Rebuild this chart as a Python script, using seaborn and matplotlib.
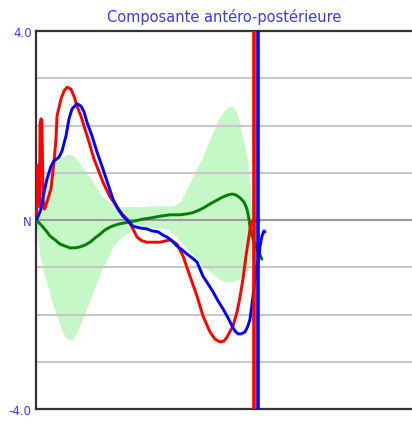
import numpy as np
import pandas as pd
import matplotlib
matplotlib.use("Agg")
import matplotlib.pyplot as plt
import seaborn as sns

# ---- data (x in samples, y in chart units) ----
red_x = [0.5, 1, 2, 2.5, 3.5, 4, 5, 6, 7, 8.5, 11, 15, 18, 20, 21, 25, 28, 31, 35, 38, 41, 45, 48,
         53, 58, 63, 67, 74, 81, 86, 92, 97, 101, 106, 111, 124, 134, 141, 147, 154, 161, 167, 174,
         179, 184, 188, 191, 197, 201, 204, 207, 210, 213, 215, 219, 223]
red_y = [0.02, 1.12, 1.16, 0.28, 0.34, 2.03, 2.14, 2.10, 0.44, 0.23, 0.38, 0.66, 1.23, 1.71, 2.20,
         2.56, 2.73, 2.81, 2.77, 2.62, 2.41, 2.20, 1.99, 1.65, 1.29, 1.02, 0.80, 0.49, 0.28, 0.13,
         0.0, -0.19, -0.36, -0.44, -0.47, -0.47, -0.42, -0.51, -0.76, -1.19, -1.61, -2.03, -2.37,
         -2.52, -2.58, -2.56, -2.48, -2.24, -1.95, -1.63, -1.25, -0.76, -0.34, -0.04, -0.02, -0.02]

blue_x = [1, 5, 8, 11, 15, 18, 23, 26, 30, 33, 36, 41, 45, 48, 51, 56, 61, 66, 72, 77, 82, 87, 92,
          97, 104, 111, 116, 122, 127, 131, 136, 141, 146, 151, 156, 161, 164, 167, 172, 177, 182,
          187, 192, 196, 199, 202, 205, 209, 212, 214, 217, 220, 223, 224, 226, 228, 229]
blue_y = [0.02, 0.23, 0.59, 0.87, 1.14, 1.25, 1.33, 1.46, 1.78, 2.14, 2.35, 2.46, 2.41, 2.29, 2.07,
          1.78, 1.44, 1.14, 0.76, 0.44, 0.23, 0.08, -0.02, -0.13, -0.17, -0.19, -0.23, -0.25, -0.32,
          -0.36, -0.44, -0.55, -0.63, -0.72, -0.80, -0.89, -1.04, -1.19, -1.35, -1.52, -1.71, -1.88,
          -2.07, -2.24, -2.35, -2.41, -2.41, -2.37, -2.24, -2.10, -1.61, -1.04, -0.78, -0.55, -0.34,
          -0.23, -0.25]

green_x = [1, 4, 7, 11, 14, 19, 24, 29, 34, 39, 44, 49, 54, 59, 64, 69, 74, 79, 84, 89, 94, 99, 107,
           114, 124, 134, 144, 151, 156, 161, 167, 174, 181, 187, 192, 196, 200, 204, 208, 211, 213,
           214, 217, 221, 226]
green_y = [-0.02, -0.08, -0.15, -0.25, -0.34, -0.42, -0.51, -0.55, -0.59, -0.59, -0.57, -0.53, -0.47,
           -0.38, -0.30, -0.21, -0.15, -0.11, -0.08, -0.06, -0.04, -0.02, 0.02, 0.04, 0.08, 0.11,
           0.11, 0.13, 0.15, 0.19, 0.25, 0.34, 0.42, 0.49, 0.53, 0.55, 0.53, 0.47, 0.38, 0.23, 0.02,
           -0.15, -0.40, -0.61, -0.83]

band_x = [0, 4, 8, 12, 16, 21, 26, 31, 36, 41, 48, 55, 61, 66, 71, 77, 84, 94, 104, 114, 124, 131,
          137, 144, 151, 157, 162, 167, 172, 177, 182, 187, 192, 196, 200, 204, 208, 212, 216]
band_upper = [0.06, 0.44, 0.70, 0.97, 1.21, 1.29, 1.33, 1.40, 1.38, 1.29, 1.08, 0.87, 0.66, 0.51,
              0.42, 0.34, 0.28, 0.28, 0.28, 0.30, 0.30, 0.30, 0.30, 0.38, 0.66, 0.93, 1.14, 1.35,
              1.61, 1.86, 2.10, 2.29, 2.39, 2.41, 2.31, 2.03, 1.65, 1.23, 0.30]
band_lower = [-0.08, -0.76, -1.14, -1.40, -1.74, -2.05, -2.35, -2.52, -2.54, -2.37, -2.03, -1.63,
              -1.31, -1.04, -0.83, -0.55, -0.40, -0.23, -0.17, -0.15, -0.17, -0.19, -0.28, -0.44,
              -0.61, -0.74, -0.85, -0.97, -1.06, -1.14, -1.23, -1.29, -1.31, -1.31, -1.27, -1.23,
              -1.16, -1.08, -0.72]

event_red_x = 217.5
event_blue_x = 221.5

y_ticks = [-4, 0, 4]
y_tick_labels = ["-4.0", "N", "4.0"]
grid_levels = [-3, -2, -1, 1, 2, 3]
title = "Composante antéro-postérieure"

# ---- plot ----
sns.set_style("white")
plt.rcParams['font.family'] = ['DejaVu Sans']

W, H = 412, 427
fig = plt.figure(figsize=(W / 100, H / 100), dpi=100)
ax = fig.add_axes([36 / W, 17 / H, 376 / W, 378 / H])

ax.fill_between(band_x, band_lower, band_upper, color="#c6f7c6", lw=0, zorder=0.5)

for g in grid_levels:
    ax.axhline(g, color="#c8c8c8", lw=1.5, zorder=1)
ax.axhline(0, color="#9a9a9a", lw=1.5, zorder=1)

df_g = pd.DataFrame({"x": green_x, "y": green_y})
df_r = pd.DataFrame({"x": red_x, "y": red_y})
df_b = pd.DataFrame({"x": blue_x, "y": blue_y})
sns.lineplot(data=df_g, x="x", y="y", color="#008000", lw=2.1, estimator=None, sort=False, ax=ax, zorder=3)
sns.lineplot(data=df_r, x="x", y="y", color="#ff0000", lw=2.1, estimator=None, sort=False, ax=ax, zorder=4)
sns.lineplot(data=df_b, x="x", y="y", color="#0000ff", lw=2.1, estimator=None, sort=False, ax=ax, zorder=5)

ax.axvline(event_red_x, color="#ff0000", lw=2.6, zorder=6)
ax.axvline(event_blue_x, color="#0000ff", lw=2.6, zorder=6)

ax.set_xlim(0, 376)
ax.set_ylim(-4, 4)
ax.set_xticks([])
ax.set_yticks(y_ticks)
ax.set_yticklabels(y_tick_labels, color="#3a3aff", fontsize=8.5)
ax.tick_params(axis="y", length=0, pad=3)
ax.set_xlabel("")
ax.set_ylabel("")

for side in ["left", "top", "bottom"]:
    ax.spines[side].set_color("#333333")
    ax.spines[side].set_linewidth(1.6)
    ax.spines[side].set_visible(True)
ax.spines["right"].set_visible(False)

ax.set_title(title, color="#3a3aff", fontsize=10.5, pad=7)

fig.savefig("out.png", dpi=100)
